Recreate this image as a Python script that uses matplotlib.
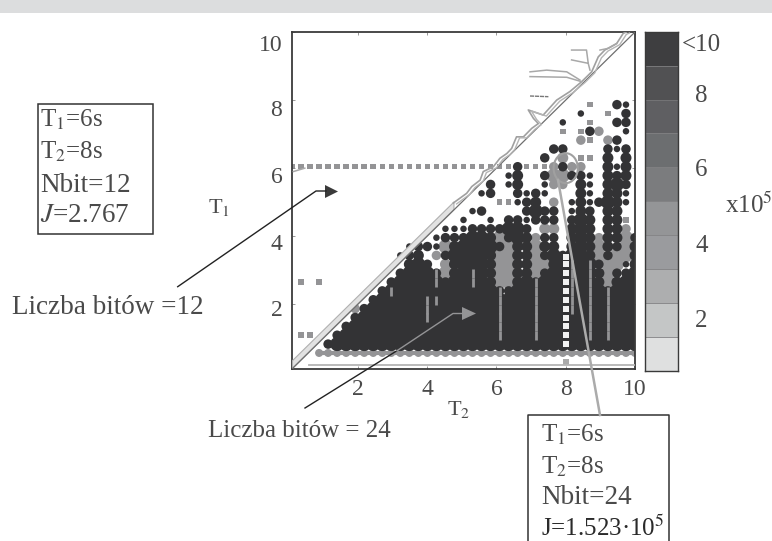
import numpy as np
import matplotlib
matplotlib.use("Agg")
import matplotlib.pyplot as plt
from matplotlib.patches import Ellipse, Polygon, Rectangle
from matplotlib.transforms import ScaledTranslation

plt.rcParams['font.family'] = ['Liberation Serif', 'DejaVu Serif']
plt.rcParams['mathtext.fontset'] = 'stix'

# J map, top row is T1=10, bottom row T1=0.1
# . empty, # dark, o small dark, g grey, a small grey, - thin grey gap, + grey edge
J_ROWS = [
    ".......... .......... .......... .........",
    ".......... .......... .......... .........",
    ".......... .......... .......... .........",
    ".......... .......... .......... .........",
    ".......... .......... .......... .........",
    ".......... .......... .......... .........",
    ".......... .......... .......... .........",
    ".......... .......... .......... .........",
    ".......... .......... .......... ...a..#o.",
    ".......... .......... .......... ..o..a.#.",
    ".......... .......... .......... o..a..##.",
    ".......... .......... .......... a.a#g..o.",
    ".......... .......... .......... ..ga.g#..",
    ".......... .......... .........# #....#o#.",
    ".......... .......... ........#. g.aa.#.#.",
    "aaaaaaaaaa aaaaaaaaaa aaaaa#aaag #gg..#o#.",
    ".......... .......... ....o#..#g g##o.###.",
    ".......... .......... ..#.o#..og g.#o.###.",
    ".......... .......... .o#..#o#o. ..#o.##o.",
    ".......... .......... ...aao##.g .o#o###o.",
    ".......... .......... o#....#### .o##.##..",
    ".......... .........o ..o.##o### .###.##a.",
    ".......... .......ooo #######.gg .###.##g.",
    ".......... ......o### ###g###g## .###g##g#",
    ".......... ...o##og## ####g##g## .###g##g#",
    ".......... ..o##.g### ###gg##g## ####g#gg#",
    ".......... ...###.g## ###gg##gg# #-#-#ggo#",
    ".......... ..####-g## -##gg##g## #-#-#g###",
    ".a.a...... .#####-### -##gg##-## #-#-#g###",
    ".......... #-######## ###-###-## #-#-#-###",
    ".........# #####--### ###-###-## #-#-#-###",
    ".......g## #####-#### ###-###-## #-#-#-###",
    ".......### #####-#### ###-###-## ###-#-###",
    "......#### ########## ###-###-## ###-#-###",
    ".aa..##### ########## ###-###-## ###-#-###",
    "....###### ########## ########## #########",
    "...+++++++ ++++++++++ ++++++++++ +++++++++",
    ".......... .......... .......... .........",
    ".......... .......... .......... .........",
]

# white dots along T2=8
DOT_T2 = [8.0] * 11
DOT_T1 = [0.83, 1.09, 1.36, 1.60, 1.87, 2.13, 2.39, 2.66, 2.91, 3.17, 3.40]

# contour lines near the diagonal
WIGGLE_T2 = [4.76, 5.14, 5.29, 5.53, 5.62, 5.91, 6.10, 6.30, 6.44, 6.58, 6.78, 7.02, 7.21, 7.07, 6.92,
             7.35, 7.74, 8.12, 8.46, 8.75, 8.94, 9.13, 9.47, 9.66, 9.75]
WIGGLE_T1 = [4.98, 5.26, 5.46, 5.65, 5.90, 6.04, 6.29, 6.43, 6.58, 6.92, 6.92, 7.17, 7.31, 7.46, 7.71,
             7.56, 8.00, 8.25, 8.54, 8.83, 9.27, 9.47, 9.66, 9.96, 10.0]
BRANCHES = [
    ([6.97, 7.45, 8.03, 8.41], [8.83, 8.88, 8.83, 8.59]),
    ([6.97, 8.03, 8.46], [8.69, 8.67, 8.54]),
    ([8.17, 8.60, 8.65, 8.17], [9.47, 9.47, 9.08, 9.18]),
    ([8.65, 8.70], [9.08, 8.88]),
    ([8.99, 9.23, 9.47], [9.47, 9.52, 9.66]),
    ([0.14, 0.47], [5.90, 6.00]),
]
DASH_T2 = [6.97, 7.50]
DASH_T1 = [8.12, 8.10]
BAND_T2 = [0.1, 4.76]

T2_TICKS = [2, 4, 6, 8, 10]
T1_TICKS = [2, 4, 6, 8, 10]
T1_LABEL_SHIFT = [4, 6, 7, 8, 11]
BAR_LEVELS = [1, 2, 3, 4, 5, 6, 7, 8, 9, 10]
BAR_COLORS = ['#dfe0e0', '#c4c6c6', '#adaeaf', '#9a9b9e', '#949597',
              '#7b7c7e', '#6c6e70', '#5f5f62', '#515153', '#3e3e40']
BAR_TICKS = [2.05, 4.26, 6.48, 8.69, 10.17]
BAR_LABELS = ['2', '4', '6', '8', '<10']

TEXT = '#4a4a4a'
DARK = '#333335'
GREY = '#949496'


def px_size(d):
    # marker diameter in pixels to scatter area
    return (d * 0.72) ** 2


def cells_of(rows, t2, t1, chars, filled, small=None):
    xs, ys, sizes = [], [], []
    for i, row in enumerate(rows):
        for j, c in enumerate(row):
            if c not in chars:
                continue
            around = [rows[i2][j2] if 0 <= i2 < len(rows) and 0 <= j2 < len(row) else '#'
                      for i2, j2 in [(i - 1, j), (i + 1, j), (i, j - 1), (i, j + 1)]]
            if small and c in small:
                d = small[c]
            elif all(a in filled for a in around):
                d = 14
            elif around[0] in filled and around[1] in filled:
                d = 11
            else:
                d = 9.5
            xs.append(t2[j])
            ys.append(t1[i])
            sizes.append(px_size(d))
    return xs, ys, sizes


rows = [r.replace(' ', '') for r in J_ROWS][::-1]
t2 = np.linspace(0.1, 10, len(rows[0]))
t1 = np.linspace(0.05, 9.95, len(rows))

fig = plt.figure(figsize=(7.72, 5.41), dpi=100)
ax = fig.add_axes([292 / 772, (541 - 369) / 541, 343 / 772, 337 / 541])

gx, gy, gs = cells_of(rows, t2, t1, 'g', 'g#-+o', None)
ax.scatter(gx, gy, s=gs, color=GREY, linewidths=0, zorder=1)
gx, gy, gs = cells_of(rows, t2, t1, '+', '+#-', {'+': 8})
ax.scatter(gx, gy, s=gs, color=GREY, linewidths=0, zorder=1)
ax.plot([t2[3], 10], [t1[2], t1[2]], color=GREY, lw=3, solid_capstyle='butt', zorder=1)
gx, gy, gs = cells_of(rows, t2, t1, 'a', '', {'a': 5.5})
ax.scatter(gx, gy, s=gs, marker='s', color=GREY, linewidths=0, zorder=1)
dx, dy, ds = cells_of(rows, t2, t1, '#-', '#-+', None)
ax.scatter(dx, dy, s=ds, color=DARK, linewidths=0, zorder=2)
dx, dy, ds = cells_of(rows, t2, t1, 'o', '', {'o': 6.5})
ax.scatter(dx, dy, s=ds, color=DARK, linewidths=0, zorder=2)
lx, ly, _ = cells_of(rows, t2, t1, '-', '', {'-': 1})
ax.scatter(lx, ly, s=px_size(9), marker='|', color=GREY, linewidths=2.0, zorder=3)
ax.scatter(DOT_T2, DOT_T1, marker='s', s=14, color='#f2f2f2', linewidths=0, zorder=3)
ax.scatter([8.0], [0.3], marker='s', s=14, color='#aaaaaa', linewidths=0, zorder=3)

band = np.array(BAND_T2)
ax.fill_between(band, band + 0.04, band + 0.26, color='#e2e2e2', linewidth=0.8, edgecolor='#b0b0b0', zorder=3)
ax.plot([0.1, 10], [0.1, 10], color='#6e6e6e', lw=0.9, zorder=3)
ax.plot(WIGGLE_T2, WIGGLE_T1, color='#a0a0a0', lw=1.2, zorder=3)
ax.plot(np.array(WIGGLE_T2) + 0.09, np.array(WIGGLE_T1) - 0.03, color='#b5b5b5', lw=1.0, zorder=3)
for xs, ys in BRANCHES:
    ax.plot(xs, ys, color='#a8a8a8', lw=1.1, zorder=3)
ax.plot(DASH_T2, DASH_T1, color='#777777', lw=1.0, ls=(0, (3, 0.6)), zorder=3)
ax.plot([0.6, 10], [0.23, 0.23], color='#b4b4b4', lw=1.3, zorder=3)
ax.add_patch(Ellipse((8.0, 6.0), 0.7, 0.88, fill=False, ec='#a0a0a0', lw=1.5, zorder=4))

ax.set_xlim(0.1, 10)
ax.set_ylim(0.1, 10)
ax.set_xticks(T2_TICKS, [str(v) for v in T2_TICKS])
ax.set_yticks(T1_TICKS, [str(v) for v in T1_TICKS])
ax.tick_params(direction='in', length=2.5, width=0.6, color='#888888', labelsize=17, labelcolor=TEXT, pad=7)
ax.tick_params(top=True, right=True)
for lab, shift in zip(ax.get_yticklabels(), T1_LABEL_SHIFT):
    lab.set_transform(lab.get_transform() + ScaledTranslation(0, -shift / 100, fig.dpi_scale_trans))
for s in ax.spines.values():
    s.set_linewidth(1.3)
    s.set_color('#3a3a3a')

cax = fig.add_axes([645 / 772, (541 - 370.7) / 541, 33 / 772, 339 / 541])
cax.barh(BAR_LEVELS, 1, height=1, color=BAR_COLORS, edgecolor='#808082', linewidth=0.5)
cax.set_xlim(0, 1)
cax.set_ylim(0.5, 10.5)
cax.set_xticks([])
cax.yaxis.tick_right()
cax.set_yticks(BAR_TICKS, BAR_LABELS)
cax.tick_params(length=0, labelsize=18, labelcolor=TEXT, pad=17)
for lab in cax.get_yticklabels():
    lab.set_ha('center')
for s in cax.spines.values():
    s.set_linewidth(1.0)
    s.set_color('#3a3a3a')

# everything around the plot, in picture pixels
top = fig.add_axes([0, 0, 1, 1], zorder=5)
top.set_xlim(0, 772)
top.set_ylim(541, 0)
top.axis('off')
top.patch.set_alpha(0)
top.add_patch(Rectangle((0, 0), 772, 13, fc='#dcddde', ec='none'))

top.add_patch(Rectangle((37.7, 104.3), 115.6, 130, fill=False, ec='#333333', lw=1.1))
for y, s, fs in zip([120, 152, 185, 215], ['T$_{1}$=6s', 'T$_{2}$=8s', 'Nbit=12', '$\\mathit{J}$=2.767'],
                    [18, 18, 19.5, 19.5]):
    top.text(40, y, s, fontsize=fs, color=TEXT, va='center')

top.plot([527.7, 527.7, 669, 669], [541, 415, 415, 541], color='#333333', lw=1.1)
for y, s, c, fs in zip([435, 467, 498, 528], ['T$_{1}$=6s', 'T$_{2}$=8s', 'Nbit=24', 'J=1.523·10$^{5}$'],
                       [TEXT, TEXT, TEXT, '#2a2a2a'], [18, 18, 19.5, 18]):
    top.text(541, y, s, fontsize=fs, color=c, va='center')

top.text(208, 207, 'T$_{1}$', fontsize=16, color=TEXT, va='center')
top.text(447, 409, 'T$_{2}$', fontsize=16, color=TEXT, va='center')
top.text(12, 308, 'Liczba bitów =12', fontsize=19.5, color=TEXT, va='center')
top.text(208, 431, 'Liczba bitów = 24', fontsize=18, color=TEXT, va='center')
top.text(725, 205, 'x10$^{5}$', fontsize=18, color=TEXT, va='center')

# arrows
top.plot([177.7, 316, 326], [286.7, 191, 191], color='#222222', lw=1.0)
top.add_patch(Polygon([(325, 185), (338, 191.5), (325, 198)], fc='#3a3a3a', ec='none'))
top.plot([305, 397], [408, 350.7], color='#222222', lw=1.0)
top.plot([397, 453, 462], [350.7, 313.5, 313.5], color=GREY, lw=1.0)
top.add_patch(Polygon([(462, 307), (476, 313.5), (462, 320)], fc=GREY, ec='none'))
top.plot([558, 600], [180, 415], color='#ababab', lw=1.8)

fig.savefig('out.png', dpi=100)
